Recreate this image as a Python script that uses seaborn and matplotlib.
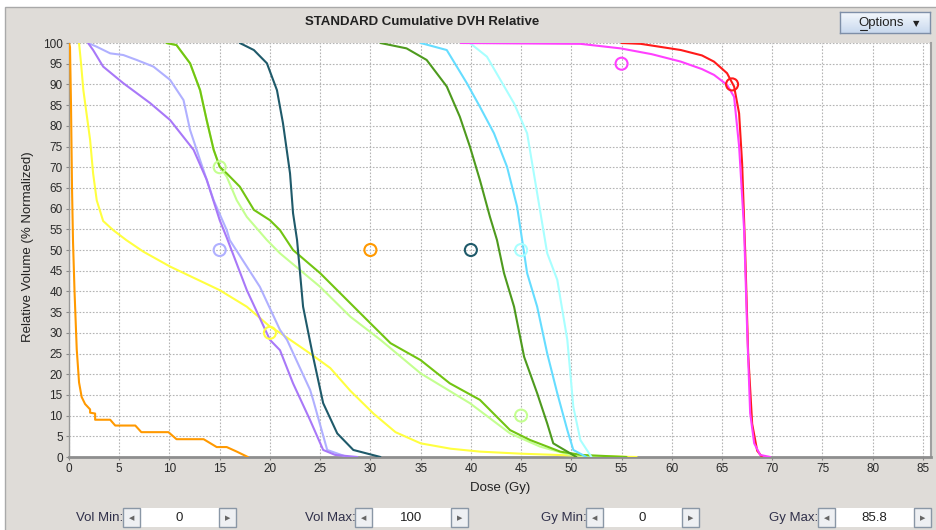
import numpy as np
import pandas as pd
import matplotlib
matplotlib.use("Agg")
import matplotlib.pyplot as plt
from matplotlib.patches import Rectangle
from matplotlib import font_manager
import seaborn as sns

# ---------------- data ----------------
title = "STANDARD Cumulative DVH Relative"
x_label = "Dose (Gy)"
y_label = "Relative Volume (% Normalized)"
x_ticks = list(range(0, 90, 5))
y_ticks = list(range(0, 105, 5))

orange_dose = [0.0, 0.1, 0.2, 0.3, 0.4, 0.55, 0.77, 1.0, 1.26, 1.6, 2.1, 2.1, 2.6, 2.6, 4.1, 4.6, 6.6, 7.2, 9.9, 10.7, 13.4, 14.7, 15.7, 16.7, 17.8]
orange_vol = [100, 99, 85, 65, 52, 40, 26, 18, 14.5, 12.8, 11.5, 10.7, 10.5, 9.0, 9.0, 7.6, 7.6, 6.0, 6.0, 4.3, 4.3, 2.4, 2.4, 1.3, 0]

yellow_dose = [1.0, 1.2, 1.43, 1.8, 2.1, 2.4, 2.76, 3.4, 4.4, 5.7, 7.4, 10.06, 15.0, 17.7, 20.0, 21.0, 24.0, 26.0, 28.0, 30.3, 32.5, 35.0, 38.0, 40.9, 45.0, 50.9, 56.5]
yellow_vol = [100, 95, 88.6, 82, 76.6, 68.5, 62, 57, 54.8, 52.4, 49.6, 46, 40.3, 36.3, 31.5, 30.0, 25.0, 21.5, 16, 10.5, 6, 3.3, 2.0, 1.3, 0.8, 0.3, 0]

purple_dose = [1.9, 2.4, 3.4, 5.4, 8.07, 10.06, 12.4, 13.7, 15.0, 15.7, 17.7, 20.0, 21.0, 22.3, 24.0, 25.3, 26.5, 28.7]
purple_vol = [100, 98.3, 94.3, 90.3, 85.5, 81.4, 74.2, 67, 57.2, 53, 40.3, 28.3, 25.8, 17.8, 8.9, 1.7, 0.5, 0]

lavender_dose = [1.9, 2.76, 4.1, 5.4, 6.74, 8.4, 10.06, 11.4, 12.05, 13.05, 14.4, 15.7, 16.0, 19.0, 21.0, 21.7, 24.0, 24.3, 25.7, 27.7]
lavender_vol = [100, 99.1, 97.5, 97.1, 95.9, 94.3, 91.1, 86.2, 79.0, 71.7, 62, 54.8, 52.4, 41.1, 30.7, 28.3, 16.2, 13.8, 1.7, 0]

ltgreen_dose = [9.7, 10.7, 12.05, 13.05, 13.7, 14.4, 15.0, 15.7, 16.7, 17.7, 19.7, 21.0, 25.0, 28.0, 31.0, 35.0, 39.9, 43.9, 46.9, 49.9, 53.0]
ltgreen_vol = [100, 99.5, 95.1, 88.6, 81.4, 74.2, 70.1, 67.7, 62, 58, 52.4, 49.2, 41.1, 33.9, 28.3, 20.2, 13.0, 5.7, 2.5, 0.5, 0]

green_dose = [9.7, 10.7, 12.05, 13.05, 13.7, 14.4, 15.0, 15.7, 17.0, 18.4, 20.0, 21.0, 22.3, 25.0, 30.0, 32.0, 35.0, 37.9, 40.9, 43.9, 45.9, 48.9, 51.0, 55.5]
green_vol = [100, 99.5, 95.1, 88.6, 81.4, 74.2, 70.1, 68.5, 65.3, 59.7, 57.2, 54.8, 50, 44.4, 32.3, 27.5, 23.4, 17.8, 13.8, 6.5, 4.1, 1.3, 0.5, 0]

teal_dose = [17.0, 18.4, 19.7, 20.7, 21.0, 21.3, 22.0, 22.3, 22.7, 23.3, 24.3, 25.3, 26.7, 28.3, 31.0]
teal_vol = [100, 98.3, 95.1, 88.6, 84.6, 80.6, 68.5, 58.9, 52.4, 36.3, 24.2, 13.0, 5.7, 1.7, 0]

dkgreen_dose = [31.0, 33.6, 35.6, 37.6, 38.9, 39.9, 40.9, 41.9, 42.6, 43.3, 44.3, 45.3, 46.6, 47.6, 48.2, 49.6, 50.5]
dkgreen_vol = [100, 98.7, 95.9, 89.5, 82.2, 75, 66.9, 58, 52.4, 44.4, 36.3, 24.2, 15.4, 8.1, 3.3, 1.3, 0]

sky_dose = [35.0, 37.6, 39.6, 40.9, 42.3, 43.6, 44.6, 45.6, 46.6, 47.6, 48.6, 49.6, 50.2, 51.5]
sky_vol = [100, 98.3, 90.3, 84.6, 78.2, 70.1, 60.5, 44.4, 36.3, 25.0, 15.4, 6.5, 1.7, 0]

ltcyan_dose = [39.9, 41.6, 44.3, 45.6, 46.6, 47.6, 48.6, 49.6, 50.2, 50.9, 52.0]
ltcyan_vol = [100, 96.7, 85.4, 78.2, 63.7, 49.2, 42.8, 28.3, 12.1, 4.1, 0]

red_dose = [55.0, 56.9, 60.9, 63.0, 64.2, 65.5, 66.2, 66.7, 67.0, 67.3, 67.6, 68.0, 68.5, 69.0]
red_vol = [100, 99.8, 98.3, 97, 95.5, 92.7, 89.5, 83, 70.9, 50, 25, 8, 1.5, 0]

magenta_dose = [39.0, 45.0, 50.9, 54.9, 58.0, 60.9, 63.0, 64.2, 65.5, 66.2, 66.7, 67.2, 67.5, 67.8, 68.2, 68.8, 69.8]
magenta_vol = [100, 99.9, 99.8, 98.7, 97.3, 95.5, 93.7, 92.3, 89.9, 87.0, 75.0, 54.8, 30.7, 10.6, 3.3, 0.5, 0]

# objective markers
marker_dose = [55, 66, 15, 45, 15, 20, 30, 40, 45]
marker_vol = [95, 90, 70, 10, 50, 30, 50, 50, 50]
marker_color = ["#FF40FF", "#FF1A1A", "#C4FF90", "#C4FF90", "#B0B0FF", "#FFFF40", "#FF9900", "#1F5A6A", "#A8FFFF"]

ctrl_labels = ["Vol Min:", "Vol Max:", "Gy Min:", "Gy Max:"]
ctrl_values = ["0", "100", "0", "85.8"]

# --------------- styling ---------------
sns.set_style("white")
names = {f.name for f in font_manager.fontManager.ttflist}
narrow = "Liberation Sans Narrow" if "Liberation Sans Narrow" in names else "Liberation Sans"
plt.rcParams["font.family"] = ["Liberation Sans", "DejaVu Sans"]

W, H = 936, 530
fig = plt.figure(figsize=(W / 100, H / 100), dpi=100)
fig.patch.set_facecolor("white")

def fx(x):
    return x / W

def fy(y):
    return 1 - y / H

def rect(x0, y0, x1, y1, fc, ec="none", lw=1.0, z=0):
    fig.patches.append(Rectangle((fx(x0), fy(y1)), (x1 - x0) / W, (y1 - y0) / H,
                                 transform=fig.transFigure, fc=fc, ec=ec, lw=lw, zorder=z))

PANEL = "#DFDCD8"
rect(5, 7, W + 2, H + 2, PANEL, ec="#A9A9A9", lw=1.0, z=-10)

ax = fig.add_axes([fx(69), fy(457), (931 - 69) / W, (457 - 43) / H])
ax.set_facecolor("white")

series = [
    (orange_dose, orange_vol, "#FF9900"),
    (yellow_dose, yellow_vol, "#FFFF40"),
    (lavender_dose, lavender_vol, "#B0B0FF"),
    (purple_dose, purple_vol, "#A878F8"),
    (ltgreen_dose, ltgreen_vol, "#C4FF90"),
    (green_dose, green_vol, "#72C412"),
    (teal_dose, teal_vol, "#1F5A6A"),
    (dkgreen_dose, dkgreen_vol, "#4E9A1E"),
    (sky_dose, sky_vol, "#66DDFF"),
    (ltcyan_dose, ltcyan_vol, "#A8FFFF"),
    (red_dose, red_vol, "#FF1A1A"),
    (magenta_dose, magenta_vol, "#FF40FF"),
]
for d, v, c in series:
    df = pd.DataFrame({"dose": d, "vol": v})
    sns.lineplot(data=df, x="dose", y="vol", ax=ax, color=c, lw=1.5,
                 sort=False, estimator=None, zorder=3)

mdf = pd.DataFrame({"dose": marker_dose, "vol": marker_vol})
for i in range(len(marker_dose)):
    sns.scatterplot(data=mdf.iloc[[i]], x="dose", y="vol", ax=ax, marker="o", s=75,
                    facecolors="none", edgecolor=marker_color[i], linewidth=1.5, zorder=4)

ax.set_xlim(0, 85.8)
ax.set_ylim(0, 100)
ax.set_xticks(x_ticks)
ax.set_yticks(y_ticks)
ax.set_xticklabels([str(t) for t in x_ticks])
ax.set_yticklabels([str(t) for t in y_ticks])
ax.grid(True, color="#B4B4B4", lw=0.8, linestyle=(0, (1.5, 1.5)))
ax.set_axisbelow(True)
ax.tick_params(axis="both", direction="out", length=2.5, width=0.8, color="#888888",
               labelsize=8.5, labelcolor="#2A2A2A", pad=2, bottom=True, left=True)
ax.spines["top"].set_visible(False)
ax.spines["left"].set_color("#9A9A9A")
ax.spines["left"].set_linewidth(1.0)
ax.spines["bottom"].set_color("#8E8E8E")
ax.spines["bottom"].set_linewidth(2.0)
ax.spines["right"].set_color("#A0A0A0")
ax.spines["right"].set_linewidth(1.5)
ax.set_xlabel("")
ax.set_ylabel("")

fig.text(fx(28), fy(247), y_label, rotation=90, ha="center", va="center",
         fontsize=9.5, color="#222222")
fig.text(fx(500), fy(488), x_label, ha="center", va="center",
         fontsize=9.5, color="#222222", family=narrow)
fig.text(fx(422), fy(22), title, ha="center", va="center",
         fontsize=9.5, fontweight="bold", color="#222222", family=narrow)

# Options button with gradient
bax = fig.add_axes([fx(840), fy(33), (930 - 840) / W, (33 - 12) / H])
grad = np.linspace(0, 1, 50).reshape(-1, 1)
cmap = matplotlib.colors.LinearSegmentedColormap.from_list("btn", ["#F4F8FD", "#C9D9EE"])
bax.imshow(grad, aspect="auto", cmap=cmap, extent=[0, 1, 0, 1], origin="upper")
bax.set_xticks([]); bax.set_yticks([])
for sp in bax.spines.values():
    sp.set_color("#7E8FA8"); sp.set_linewidth(1.0)
fig.text(fx(858), fy(23), "Options", ha="left", va="center",
         fontsize=9.5, color="#222222", family=narrow)
fig.text(fx(916), fy(23.5), "\u25BC", ha="center", va="center",
         fontsize=6, color="#222222", family="DejaVu Sans")
fig.lines.append(matplotlib.lines.Line2D([fx(859.5), fx(867)], [fy(30), fy(30)],
                                         transform=fig.transFigure, color="#222222", lw=0.8))

# spinner controls
starts = [123, 355, 586, 818]
for lab, val, bx in zip(ctrl_labels, ctrl_values, starts):
    y0, y1 = 508, 527
    fig.text(fx(bx + 0.5), fy(518), lab, ha="right", va="center", fontsize=9.5,
             color="#30304A", family=narrow)
    rect(bx + 17, y0, bx + 96, y1, "white", z=1)
    rect(bx, y0, bx + 17, y1, "#EEF0F3", ec="#8A97A6", lw=1.0, z=2)
    rect(bx + 96, y0, bx + 113, y1, "#EEF0F3", ec="#8A97A6", lw=1.0, z=2)
    fig.text(fx(bx + 8.5), fy(518), "\u25C0", ha="center", va="center", fontsize=5,
             color="#666666", family="DejaVu Sans")
    fig.text(fx(bx + 104.5), fy(518), "\u25B6", ha="center", va="center", fontsize=5,
             color="#666666", family="DejaVu Sans")
    fig.text(fx(bx + 56), fy(518), val, ha="center", va="center", fontsize=9.5,
             color="#222222", family=narrow)

fig.savefig("out.png", dpi=100, facecolor=fig.get_facecolor())
